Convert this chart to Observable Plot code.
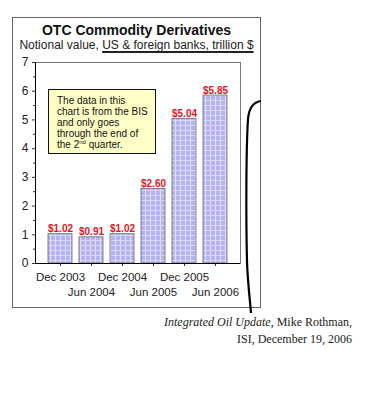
<!DOCTYPE html>
<html><head><meta charset="utf-8">
<script src="https://cdn.jsdelivr.net/npm/d3@7"></script>
<script src="https://cdn.jsdelivr.net/npm/@observablehq/plot@0.6"></script>
<style>
body{margin:0;background:#fff;width:369px;height:400px;position:relative;overflow:hidden;font-family:Arial,"Liberation Sans",sans-serif;color:#111}
#frame{position:absolute;left:12px;top:17px;width:249px;height:291px;border:1px solid #666;box-sizing:border-box}
#title{position:absolute;left:12px;width:249px;top:21px;text-align:center;font-weight:bold;font-size:14px;line-height:18px;color:#111}
#subtitle{position:absolute;left:12px;width:249px;top:37px;text-align:center;font-size:12px;line-height:16px;color:#222}
#subtitle span{text-decoration:underline;text-decoration-thickness:2px;text-underline-offset:2px}
#chart{position:absolute;left:0;top:50px}
#note{position:absolute;left:48px;top:89px;width:108px;height:65px;box-sizing:border-box;border:1px solid #111;background:#ffffc6;font-size:10px;line-height:11px;padding:5px 0 0 8px;color:#111}
#note sup{font-size:6px;vertical-align:4px;line-height:0}
#caption{position:absolute;right:17px;top:314px;text-align:right;font-family:"Liberation Serif","Times New Roman",serif;font-size:12px;line-height:17px;color:#222}
#deco{position:absolute;left:0;top:0;pointer-events:none}
</style></head>
<body>
<div id="frame"></div>
<div id="title">OTC Commodity Derivatives</div>
<div id="subtitle">Notional value, <span>US &amp; foreign banks, trillion $</span></div>
<div id="chart"></div>
<div id="note">The data in this<br>chart is from the BIS<br>and only goes<br>through the end of<br>the 2<sup>nd</sup> quarter.</div>
<div id="caption"><i>Integrated Oil Update</i>, Mike Rothman,<br>ISI, December 19, 2006</div>
<svg id="deco" width="369" height="400"><path d="M261,101 C254,102 249,107 248,119 C246,150 246,220 247,262 C248,286 250,300 251,313" fill="none" stroke="#000" stroke-width="2.2"/></svg>
<script>
const periods = ["Dec 2003","Jun 2004","Dec 2004","Jun 2005","Dec 2005","Jun 2006"];
const values = [1.02, 0.91, 1.02, 2.60, 5.04, 5.85];
const decLabels = ["Dec 2003","Dec 2004","Dec 2005"];
const junLabels = ["Jun 2004","Jun 2005","Jun 2006"];
const yTicks = [0,1,2,3,4,5,6,7];
const yMinorTicks = [0.5,1.5,2.5,3.5,4.5,5.5,6.5];

const data = periods.map((p,i)=>({period:p, value:values[i]}));

const svg = Plot.plot({
  width: 260,
  height: 256,
  marginLeft: 35,
  marginRight: 20,
  marginTop: 12,
  marginBottom: 43,
  style: {fontFamily: "Arial, 'Liberation Sans', sans-serif", background: "transparent", overflow: "visible", color: "#222"},
  x: {type: "band", domain: periods, padding: 0.24, insetLeft: 4, insetRight: 4},
  y: {domain: [0, 7]},
  marks: [
    Plot.frame({stroke: "#777"}),
    Plot.barY(data, {x: "period", y: "value", fill: "url(#grid)", stroke: "#666", strokeWidth: 0.8}),
    Plot.text(data, {x: "period", y: "value", text: d => "$" + d.value.toFixed(2), dy: -2, lineAnchor: "bottom", fill: "#e8141c", fontWeight: "bold", fontSize: 10}),
    Plot.axisY({ticks: yTicks, tickFormat: d3.format("d"), tickSize: 3, tickPadding: 4, fontSize: 12, label: null, stroke: "#333"}),
    Plot.axisY({ticks: yMinorTicks, tickSize: 2, text: null, label: null, stroke: "#333"}),
    Plot.axisX({ticks: decLabels, tickSize: 3, tickPadding: 6, fontSize: 11.5, label: null, stroke: "#333"}),
    Plot.axisX({ticks: junLabels, tickSize: 3, tickPadding: 21, fontSize: 11.5, label: null, stroke: "#333"}),
    Plot.ruleY([0], {stroke: "#000", strokeWidth: 1.2}),
    Plot.frame({anchor: "left", stroke: "#000"})
  ]
});
svg.insertAdjacentHTML("afterbegin",
  '<defs><pattern id="grid" patternUnits="userSpaceOnUse" width="5" height="5">' +
  '<rect width="5" height="5" fill="#b2b2f4"/>' +
  '<rect x="0" y="0" width="1" height="5" fill="#e2e2fe"/>' +
  '<rect x="0" y="0" width="5" height="1" fill="#d8d8fb"/>' +
  '</pattern></defs>');
document.getElementById("chart").appendChild(svg);
</script>
</body></html>
